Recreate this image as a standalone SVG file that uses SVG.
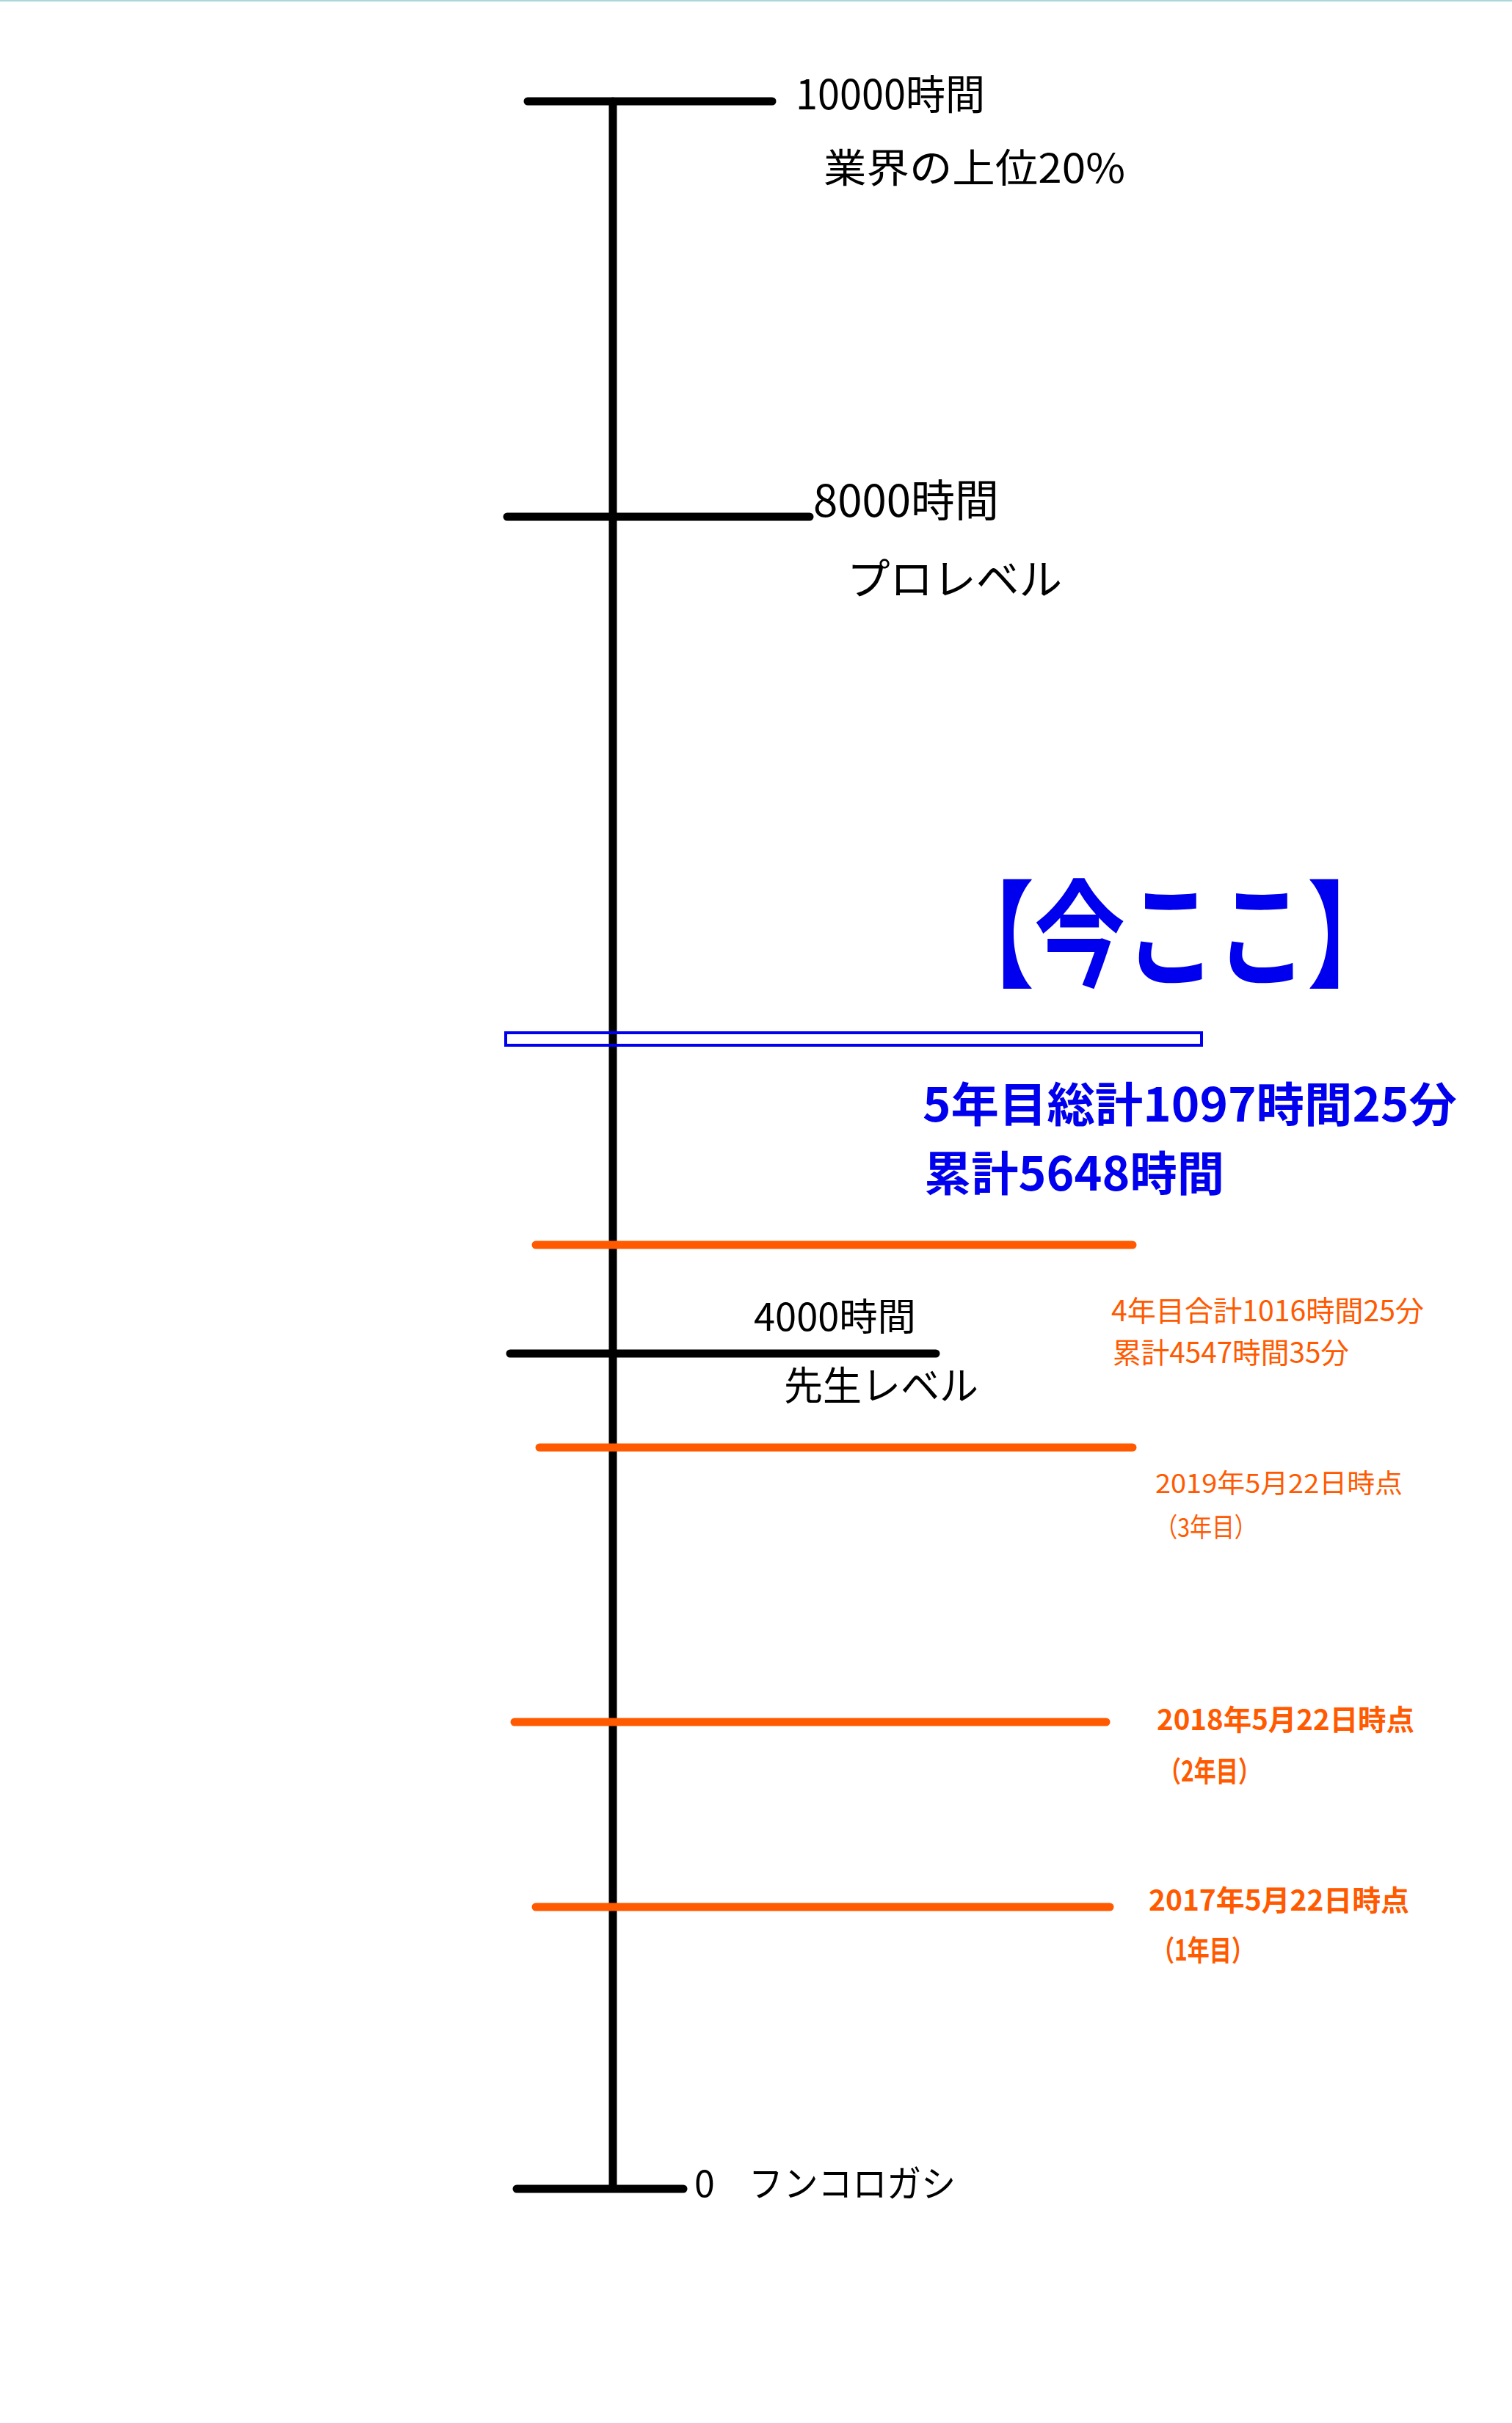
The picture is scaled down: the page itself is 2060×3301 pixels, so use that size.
<svg xmlns="http://www.w3.org/2000/svg" width="2060" height="3301" viewBox="0 0 2060 3301">
<style>
.k{stroke:#000;stroke-width:11;stroke-linecap:round;fill:none}
.o{stroke:#ff5a00;stroke-width:11;stroke-linecap:round;fill:none}
text{font-family:"Noto Sans CJK JP","Noto Sans",sans-serif}
.bt{fill:#000}
.bl{fill:#0000ee;font-weight:bold}
.or{fill:#ff5a00}
</style>
<rect width="2060" height="3301" fill="#fff"/>
<line x1="0" y1="1" x2="2060" y2="1" stroke="#a8d8d8" stroke-width="2"/>
<g id="connectors">
<line class="k" x1="835" y1="138" x2="835" y2="2980"/>
<line class="k" x1="719" y1="138" x2="1052" y2="138"/>
<line class="k" x1="691" y1="704" x2="1103" y2="704"/>
<line class="k" x1="695" y1="1844" x2="1275" y2="1844"/>
<line class="k" x1="704" y1="2982" x2="931" y2="2982"/>
<line class="o" x1="730" y1="1696" x2="1543" y2="1696"/>
<line class="o" x1="735" y1="1972" x2="1543" y2="1972"/>
<line class="o" x1="701" y1="2346" x2="1507" y2="2346"/>
<line class="o" x1="730" y1="2598" x2="1512" y2="2598"/>
<rect x="689" y="1407" width="948" height="17" fill="none" stroke="#0000ee" stroke-width="4"/>
</g>
<g id="n10000"><text class="bt" x="1084" y="149" font-size="56" textLength="258" lengthAdjust="spacingAndGlyphs">10000時間</text>
<text class="bt" x="1122" y="249" font-size="54" textLength="411" lengthAdjust="spacingAndGlyphs">業界の上位20%</text></g>
<g id="n8000"><text class="bt" x="1108" y="704" font-size="60" textLength="253" lengthAdjust="spacingAndGlyphs">8000時間</text>
<text class="bt" x="1154" y="810" font-size="58" textLength="293" lengthAdjust="spacingAndGlyphs">プロレベル</text></g>
<g id="now"><text class="bl" x="1285" y="1332" font-size="158" textLength="620" lengthAdjust="spacingAndGlyphs">【今ここ】</text>
<text class="bl" x="1257" y="1528" font-size="64" textLength="728" lengthAdjust="spacingAndGlyphs">5年目総計1097時間25分</text>
<text class="bl" x="1259" y="1622" font-size="64" textLength="409" lengthAdjust="spacingAndGlyphs">累計5648時間</text></g>
<g id="n4000"><text class="bt" x="1027" y="1813" font-size="52" textLength="221" lengthAdjust="spacingAndGlyphs">4000時間</text>
<text class="bt" x="1068" y="1908" font-size="54" textLength="265" lengthAdjust="spacingAndGlyphs">先生レベル</text></g>
<g id="y4"><text class="or" x="1514" y="1800" font-size="39" textLength="426" lengthAdjust="spacingAndGlyphs">4年目合計1016時間25分</text>
<text class="or" x="1516" y="1857" font-size="39" textLength="322" lengthAdjust="spacingAndGlyphs">累計4547時間35分</text></g>
<g id="y3"><text class="or" x="1574" y="2034" font-size="36" textLength="337" lengthAdjust="spacingAndGlyphs">2019年5月22日時点</text>
<text class="or" x="1574" y="2094" font-size="36" textLength="138" lengthAdjust="spacingAndGlyphs">（3年目）</text></g>
<g id="y2"><text class="or" x="1576" y="2357" font-size="39" font-weight="bold" textLength="351" lengthAdjust="spacingAndGlyphs">2018年5月22日時点</text>
<text class="or" x="1579" y="2427" font-size="39" font-weight="bold" textLength="138" lengthAdjust="spacingAndGlyphs">（2年目）</text></g>
<g id="y1"><text class="or" x="1565" y="2603" font-size="39" font-weight="bold" textLength="355" lengthAdjust="spacingAndGlyphs">2017年5月22日時点</text>
<text class="or" x="1570" y="2671" font-size="39" font-weight="bold" textLength="138" lengthAdjust="spacingAndGlyphs">（1年目）</text></g>
<g id="n0"><text class="bt" x="946" y="2993" font-size="50">0</text>
<text class="bt" x="1020" y="2993" font-size="50" textLength="282" lengthAdjust="spacingAndGlyphs">フンコロガシ</text></g>
</svg>
